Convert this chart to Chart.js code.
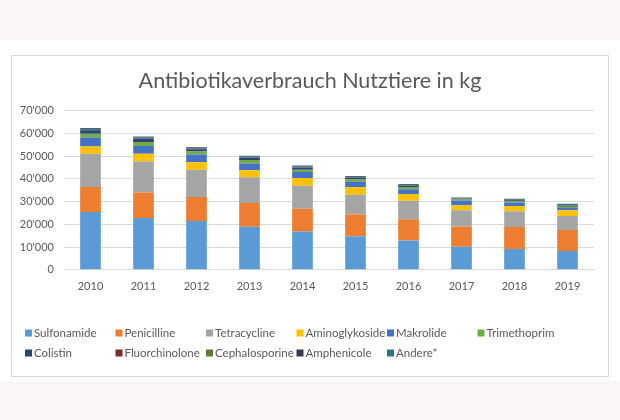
<!DOCTYPE html>
<html>
<head>
<meta charset="utf-8">
<script src="https://cdn.jsdelivr.net/npm/chart.js@4.4.0/dist/chart.umd.min.js"></script>
<style>
  html, body { margin: 0; padding: 0; background: #FCF5F5; }
  #wrap { position: relative; width: 620px; height: 420px; }
</style>
</head>
<body>
<div id="wrap"><canvas id="c" width="620" height="420"></canvas></div>
<script>
const years = ['2010','2011','2012','2013','2014','2015','2016','2017','2018','2019'];
const seriesNames = ['Sulfonamide','Penicilline','Tetracycline','Aminoglykoside','Makrolide','Trimethoprim','Colistin','Fluorchinolone','Cephalosporine','Amphenicole','Andere*'];
const seriesColors = ['#5B9BD5','#ED7D31','#A5A5A5','#FFC000','#4472C4','#70AD47','#264478','#7B2A2A','#5E7A33','#3A3552','#2D7480'];

const sulfonamide    = [25500, 22800, 21500, 18900, 16900, 14800, 12900, 10200, 9200, 8300];
const penicilline    = [10900, 11200, 10500, 10500, 10000,  9600,  9400,  8900, 9600, 9200];
const tetracycline   = [14700, 13650, 12000, 11300, 10100,  8600,  8100,  7100, 6950, 6200];
const aminoglykoside = [ 3200,  3400,  3400,  3100,  3400,  3300,  3000,  2200, 2350, 2500];
const makrolide      = [ 3900,  3400,  3400,  3000,  2700,  2500,  2100,  2100, 1500, 1000];
const trimethoprim   = [ 1700,  1800,  1300,  1500,  1000,  1000,   900,   400,  700,  600];
const colistin       = [ 1500,  1300,  1000,  1000,   900,   600,   500,   300,  300,  300];
const fluorchinolone = [  200,   200,   200,   150,   150,   150,   150,   100,  100,  100];
const cephalosporine = [  100,   100,   100,   100,   100,   100,   100,    80,   80,   80];
const amphenicole    = [  300,   300,   300,   250,   250,   250,   200,   150,  150,  150];
const andere         = [  400,   500,   400,   400,   400,   400,   400,   300,  400,  600];

const yTicksMax = 70000;
const yTicksStep = 10000;

const seriesValues = [sulfonamide, penicilline, tetracycline, aminoglykoside, makrolide, trimethoprim,
  colistin, fluorchinolone, cephalosporine, amphenicole, andere];

const FONT = 'Lato, "Open Sans", sans-serif';
const TXT = '#595959';

const bgPlugin = {
  id: 'bg',
  beforeDraw(chart) {
    const ctx = chart.ctx;
    ctx.save();
    ctx.fillStyle = '#FCF5F5';
    ctx.fillRect(0, 0, 620, 420);
    ctx.fillStyle = '#FFFFFF';
    ctx.fillRect(0, 40, 620, 341);
    ctx.strokeStyle = '#D9D9D9';
    ctx.lineWidth = 1;
    ctx.strokeRect(11.5, 55.5, 597, 321);
    ctx.restore();
  }
};

const legendPlugin = {
  id: 'gridLegend',
  afterDraw(chart) {
    const ctx = chart.ctx;
    ctx.save();
    ctx.font = '11.5px ' + FONT;
    ctx.textBaseline = 'middle';
    chart.data.datasets.forEach((ds, i) => {
      const col = i % 6, row = Math.floor(i / 6);
      const x = 25 + col * 90.5;
      const y = 333 + row * 20;
      ctx.fillStyle = ds.backgroundColor;
      ctx.fillRect(x, y - 3.5, 7, 7);
      ctx.fillStyle = TXT;
      ctx.fillText(ds.label, x + 9, y + 0.5);
    });
    ctx.restore();
  }
};

new Chart(document.getElementById('c'), {
  type: 'bar',
  data: {
    labels: years,
    datasets: seriesNames.map((n, i) => ({
      label: n,
      data: seriesValues[i],
      backgroundColor: seriesColors[i],
      borderWidth: 0,
      barPercentage: 0.39,
      categoryPercentage: 1.0
    }))
  },
  options: {
    responsive: false,
    animation: false,
    devicePixelRatio: 1,
    layout: { padding: { left: 10, right: 10, top: 64, bottom: 117 } },
    plugins: {
      legend: { display: false },
      tooltip: { enabled: false },
      title: {
        display: true,
        text: 'Antibiotikaverbrauch Nutztiere in kg',
        color: TXT,
        font: { family: FONT, size: 21.5, weight: 'normal' },
        padding: { top: 4, bottom: 17 }
      }
    },
    scales: {
      x: {
        stacked: true,
        grid: { display: false, drawTicks: false },
        border: { display: true, color: '#D9D9D9' },
        ticks: { color: TXT, font: { family: FONT, size: 11 }, padding: 10 }
      },
      y: {
        stacked: true,
        min: 0,
        max: yTicksMax,
        afterFit(s) { s.width = 54; },
        grid: { color: '#D9D9D9', drawTicks: false },
        border: { display: false },
        ticks: {
          stepSize: yTicksStep,
          color: TXT,
          font: { family: FONT, size: 11 },
          padding: 10,
          callback: v => String(v).replace(/\B(?=(\d{3})+(?!\d))/g, "'")
        }
      },
      yRight: {
        position: 'right',
        display: true,
        min: 0,
        max: yTicksMax,
        afterFit(s) { s.width = 16; },
        grid: { display: false, drawTicks: false },
        border: { display: false },
        ticks: { display: false }
      }
    }
  },
  plugins: [bgPlugin, legendPlugin]
});
</script>
</body>
</html>
